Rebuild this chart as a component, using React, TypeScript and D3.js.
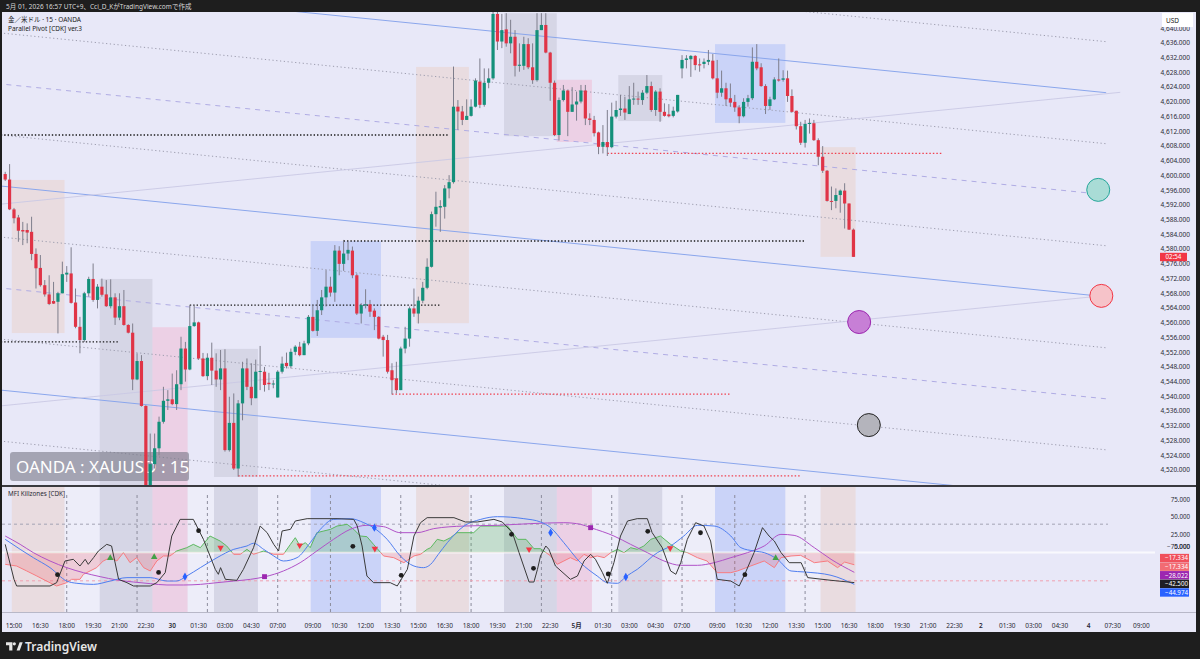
import React from 'react';
import * as d3 from 'd3';

// 15m candles, first entry is bar index -2 (14:30), bar 0 = 15:00
const firstIndex = -2;
const candles: [number, number, number, number][] = [
  [4600.4, 4601.0, 4598.5, 4598.9], [4598.9, 4603.1, 4590.6, 4590.8],
  [4590.8, 4591.2, 4587.0, 4588.4], [4588.6, 4589.3, 4582.0, 4585.0], [4585.2, 4587.4, 4581.1, 4584.8], [4585.2, 4587.0, 4581.6, 4584.5],
  [4584.7, 4588.8, 4577.0, 4578.7], [4578.7, 4580.2, 4569.3, 4574.8], [4574.9, 4578.4, 4569.8, 4570.2], [4570.2, 4571.6, 4567.1, 4567.7],
  [4567.7, 4572.9, 4564.8, 4565.1], [4565.9, 4571.1, 4565.1, 4565.2], [4565.7, 4568.4, 4557.1, 4568.0], [4568.0, 4576.6, 4568.0, 4573.2],
  [4573.1, 4575.4, 4571.1, 4573.6], [4573.4, 4580.5, 4565.2, 4565.4], [4565.5, 4569.3, 4558.5, 4558.9], [4558.9, 4561.6, 4551.7, 4555.3],
  [4555.3, 4568.4, 4554.8, 4568.0], [4568.0, 4572.5, 4567.1, 4571.9], [4571.9, 4576.1, 4565.7, 4566.2], [4566.2, 4570.5, 4563.9, 4569.8],
  [4569.8, 4572.0, 4567.1, 4567.6], [4567.7, 4571.6, 4564.3, 4564.5], [4564.5, 4571.8, 4563.9, 4566.9], [4566.9, 4568.0, 4559.4, 4561.4],
  [4561.4, 4568.0, 4560.7, 4564.5], [4564.5, 4568.9, 4559.2, 4559.4], [4559.4, 4559.6, 4557.1, 4557.3], [4557.3, 4559.8, 4541.7, 4544.6],
  [4544.6, 4551.7, 4544.4, 4549.6], [4549.6, 4551.2, 4537.2, 4537.4], [4537.4, 4537.6, 4512.0, 4514.5], [4514.5, 4529.9, 4512.5, 4521.6],
  [4521.6, 4529.9, 4520.4, 4525.9], [4525.9, 4534.5, 4524.0, 4533.1], [4533.1, 4542.6, 4532.6, 4538.8], [4538.8, 4541.7, 4536.3, 4539.2],
  [4539.2, 4546.2, 4537.6, 4537.9], [4537.9, 4547.1, 4536.3, 4543.3], [4543.3, 4556.2, 4541.7, 4553.0], [4553.0, 4554.8, 4544.0, 4547.3],
  [4547.3, 4564.8, 4547.1, 4559.1], [4559.1, 4564.8, 4558.9, 4560.1], [4560.1, 4560.3, 4549.9, 4550.3], [4550.3, 4551.8, 4545.3, 4545.5],
  [4545.5, 4551.7, 4544.4, 4550.5], [4550.5, 4554.6, 4543.1, 4547.0], [4547.0, 4551.7, 4542.6, 4544.6], [4544.6, 4552.6, 4541.7, 4547.6],
  [4547.6, 4552.8, 4525.0, 4525.4], [4525.4, 4539.9, 4525.0, 4532.8], [4532.8, 4540.8, 4520.0, 4520.4], [4520.4, 4539.0, 4518.2, 4538.1],
  [4538.1, 4549.4, 4533.5, 4547.6], [4547.6, 4550.3, 4541.7, 4542.6], [4542.6, 4549.0, 4537.6, 4539.5], [4539.5, 4550.0, 4539.5, 4546.7],
  [4546.7, 4553.7, 4541.7, 4546.9], [4546.7, 4548.0, 4541.3, 4543.1], [4543.7, 4546.4, 4541.7, 4543.3], [4543.3, 4544.4, 4542.2, 4543.5],
  [4539.7, 4547.1, 4539.7, 4546.7], [4546.7, 4550.8, 4546.2, 4548.9], [4549.1, 4551.9, 4547.6, 4548.2], [4548.2, 4553.0, 4547.6, 4552.1],
  [4552.1, 4553.9, 4551.2, 4553.5], [4553.5, 4554.8, 4550.9, 4551.2], [4551.2, 4555.1, 4551.2, 4554.4], [4554.4, 4562.1, 4553.9, 4561.6],
  [4561.6, 4564.8, 4557.6, 4557.8], [4557.8, 4566.2, 4556.4, 4563.4], [4563.4, 4568.9, 4562.1, 4566.9], [4566.9, 4574.3, 4564.4, 4569.8],
  [4569.8, 4572.5, 4567.1, 4568.2], [4568.2, 4581.1, 4565.7, 4579.6], [4579.6, 4580.8, 4572.9, 4576.0], [4576.0, 4582.5, 4574.1, 4578.8],
  [4578.8, 4582.0, 4577.0, 4579.8], [4579.6, 4580.7, 4572.1, 4572.9], [4572.9, 4573.4, 4562.1, 4562.5], [4562.5, 4565.3, 4559.8, 4564.8],
  [4564.8, 4569.1, 4563.9, 4565.0], [4565.0, 4566.2, 4561.6, 4563.0], [4563.3, 4563.9, 4558.0, 4561.6], [4561.6, 4561.8, 4555.5, 4555.7],
  [4556.2, 4556.7, 4550.8, 4555.3], [4555.3, 4556.7, 4546.2, 4546.7], [4547.1, 4549.0, 4540.5, 4544.4], [4544.9, 4549.4, 4540.8, 4541.7],
  [4541.7, 4553.5, 4541.7, 4553.0], [4553.0, 4558.9, 4551.7, 4555.7], [4555.7, 4564.4, 4553.5, 4563.9], [4563.9, 4569.3, 4561.6, 4562.5],
  [4562.5, 4567.1, 4559.8, 4566.0], [4566.0, 4571.1, 4565.3, 4569.5], [4569.5, 4577.5, 4569.1, 4575.2], [4575.2, 4590.2, 4575.0, 4589.5],
  [4589.5, 4595.6, 4586.1, 4591.5], [4591.3, 4593.3, 4584.7, 4591.7], [4591.5, 4597.4, 4588.3, 4596.5], [4596.5, 4600.1, 4593.8, 4598.2],
  [4598.2, 4629.6, 4597.8, 4618.7], [4618.7, 4620.5, 4612.4, 4617.4], [4617.4, 4618.9, 4613.7, 4615.1], [4615.1, 4620.7, 4615.1, 4616.2],
  [4616.2, 4620.7, 4616.0, 4618.7], [4618.7, 4626.4, 4618.5, 4625.8], [4625.5, 4631.8, 4618.3, 4619.2], [4619.2, 4629.1, 4618.7, 4625.2],
  [4625.2, 4629.1, 4623.7, 4626.4], [4626.4, 4647.0, 4626.0, 4643.9], [4643.9, 4646.5, 4634.1, 4636.4], [4636.4, 4643.9, 4634.6, 4639.5],
  [4639.7, 4644.1, 4635.0, 4635.9], [4635.9, 4642.3, 4633.2, 4637.7], [4637.7, 4639.5, 4626.9, 4629.8], [4629.8, 4635.9, 4628.2, 4630.1],
  [4629.8, 4637.7, 4628.7, 4635.7], [4635.7, 4637.3, 4628.9, 4629.4], [4629.4, 4635.9, 4624.9, 4625.9], [4625.9, 4644.1, 4625.5, 4639.5],
  [4639.5, 4644.1, 4639.5, 4640.9], [4640.9, 4644.1, 4633.2, 4633.4], [4633.4, 4633.6, 4620.3, 4625.2], [4625.2, 4625.8, 4610.7, 4611.0],
  [4611.0, 4621.2, 4609.5, 4620.5], [4620.5, 4624.6, 4620.1, 4623.1], [4623.1, 4623.2, 4610.7, 4617.3], [4617.3, 4624.0, 4617.3, 4619.3],
  [4619.3, 4622.8, 4614.9, 4620.1], [4620.1, 4624.6, 4619.6, 4623.1], [4623.1, 4624.6, 4613.7, 4615.5], [4615.5, 4616.9, 4613.7, 4615.1],
  [4615.1, 4616.2, 4610.6, 4611.5], [4611.7, 4611.9, 4605.8, 4607.8], [4607.8, 4613.7, 4606.0, 4609.1], [4609.1, 4617.8, 4605.3, 4607.7],
  [4607.7, 4619.8, 4607.4, 4616.0], [4616.0, 4620.3, 4615.5, 4617.8], [4617.8, 4621.9, 4616.2, 4618.2], [4618.2, 4621.4, 4615.1, 4617.1],
  [4616.7, 4624.3, 4616.7, 4620.7], [4620.7, 4625.2, 4619.2, 4620.9], [4620.9, 4622.8, 4619.2, 4620.7], [4620.5, 4623.2, 4619.2, 4622.5],
  [4622.5, 4627.3, 4622.1, 4624.3], [4624.3, 4625.5, 4617.3, 4617.8], [4617.8, 4623.2, 4616.2, 4622.8], [4622.8, 4623.7, 4614.6, 4617.3],
  [4617.3, 4619.6, 4616.0, 4616.2], [4616.6, 4619.4, 4615.8, 4616.1], [4616.2, 4618.7, 4615.8, 4617.6], [4617.4, 4621.9, 4617.1, 4621.9],
  [4629.1, 4632.7, 4626.4, 4631.4], [4631.4, 4632.7, 4629.1, 4631.8], [4631.6, 4632.7, 4626.8, 4632.5], [4632.5, 4632.7, 4628.6, 4630.0],
  [4630.2, 4631.8, 4628.2, 4630.0], [4630.3, 4631.8, 4629.1, 4630.9], [4630.9, 4634.1, 4630.0, 4631.4], [4631.2, 4633.0, 4626.1, 4626.4],
  [4626.4, 4631.4, 4621.0, 4622.5], [4622.5, 4628.5, 4621.4, 4623.7], [4623.7, 4625.2, 4618.9, 4620.7], [4621.0, 4625.0, 4618.7, 4619.8],
  [4620.0, 4621.9, 4617.3, 4618.5], [4618.5, 4619.1, 4614.2, 4616.1], [4616.1, 4621.0, 4615.8, 4620.0], [4620.0, 4621.9, 4618.7, 4621.0],
  [4621.0, 4634.8, 4620.5, 4630.9], [4630.9, 4635.7, 4628.6, 4629.1], [4629.4, 4630.5, 4624.1, 4624.3], [4624.3, 4624.8, 4616.7, 4618.9],
  [4618.9, 4621.4, 4617.8, 4620.7], [4620.7, 4626.7, 4620.5, 4626.1], [4626.1, 4631.8, 4625.5, 4625.8], [4626.0, 4628.6, 4625.5, 4626.4],
  [4626.4, 4628.5, 4620.0, 4621.6], [4621.6, 4623.4, 4617.1, 4617.3], [4617.6, 4617.6, 4612.5, 4613.4], [4613.4, 4614.6, 4608.3, 4608.9],
  [4608.9, 4615.1, 4607.6, 4614.0], [4614.0, 4615.5, 4611.4, 4614.3], [4614.2, 4615.1, 4609.4, 4609.6], [4609.6, 4610.1, 4602.8, 4605.1],
  [4605.1, 4608.0, 4600.7, 4601.3], [4601.3, 4601.5, 4592.9, 4593.1], [4593.1, 4597.0, 4590.6, 4592.9], [4593.1, 4596.5, 4591.1, 4594.7],
  [4594.7, 4596.2, 4589.9, 4595.9], [4595.9, 4597.9, 4585.6, 4592.4], [4592.4, 4592.4, 4585.2, 4585.3], [4585.3, 4585.6, 4577.9, 4577.9],
];

// killzone sessions (bar index range, high/low of the box)
const sessionStart = [0, 20, 32, 46, 68, 92, 112, 124, 138, 160, 184];
const sessionEnd = [11, 31, 39, 55, 83, 103, 123, 131, 147, 175, 191];
const sessionKind = ['beige', 'gray', 'pink', 'gray', 'blue', 'beige', 'gray', 'pink', 'gray', 'blue', 'beige'];
const sessionHigh = [4598.8, 4571.9, 4558.8, 4552.9, 4582.2, 4629.5, 4644.1, 4626.0, 4627.3, 4635.7, 4607.7];
const sessionLow = [4557.2, 4510.0, 4510.0, 4518.1, 4555.9, 4559.9, 4610.7, 4609.1, 4614.8, 4614.3, 4577.9];
const offSessions: [number, number][] = [[12, 19], [40, 45], [56, 67], [84, 91], [104, 111], [132, 137], [148, 159], [176, 183]];
const sessionMarks = [12, 28, 44, 60, 72, 88, 104, 120, 136, 152, 164, 180];

// parallel pivot channel: upper blue line endpoints, level spacing
const channelTop: [number, number][] = [[-4, 4652.7], [248.5, 4622.5]];
const channelStep = 13.86;
const channelLevels = [-1, 0, 1, 2, 3, 4, 5, 6, 7, 8, 9];
const risingLines: [number, number, number, number][] = [[-4, 4592.1, 251.7, 4622.6], [-4, 4537.3, 248.3, 4567.4]];

// session high / low rays
const blackRays: [number, number, number][] = [[-3, 99, 4611.0], [-3, 24, 4554.8], [75, 180, 4582.2], [40, 97, 4564.8]];
const redRays: [number, number, number][] = [[135, 211, 4606.0], [86, 163, 4540.6], [51, 179, 4518.4]];

// projection circles
const projIndex = [246.7, 247.4, 192.3, 194.5];
const projPrice = [4596.1, 4567.3, 4560.2, 4532.2];
const projStroke = ['#26a69a', '#f23645', '#9c27b0', '#222'];
const projFill = ['#a9dcd6', '#f6c3c9', '#c77fd6', '#b4b4bc'];

const timeTicks: [string, number][] = [
  ['15:00', 0], ['16:30', 6], ['18:00', 12], ['19:30', 18], ['21:00', 24], ['22:30', 30], ['30', 36], ['01:30', 42],
  ['03:00', 48], ['04:30', 54], ['07:00', 60], ['09:00', 68], ['10:30', 74], ['12:00', 80], ['13:30', 86], ['15:00', 92],
  ['16:30', 98], ['18:00', 104], ['19:30', 110], ['21:00', 116], ['22:30', 122], ['5月', 128], ['01:30', 134], ['03:00', 140],
  ['04:30', 146], ['07:00', 152], ['09:00', 160], ['10:30', 166], ['12:00', 172], ['13:30', 178], ['15:00', 184], ['16:30', 190],
  ['18:00', 196], ['19:30', 202], ['21:00', 208], ['22:30', 214], ['2', 220], ['01:30', 226], ['03:00', 232], ['04:30', 238],
  ['4', 244.5], ['07:30', 250], ['09:00', 256.5],
];
const dayLabels = ['30', '5月', '2', '4'];
const priceTicks = d3.range(4520, 4641, 4);
const mfiTicks = [75, 50, 25, 0, -75];

// MFI Killzones pane: [bar index, value]
const fastLine: [number, number][] = [
  [-2, 11.5], [0, -37.9], [0.6, -47.3], [8.2, -47.3], [9.7, -42.6], [11.6, -12], [13.5, -9.6], [15, -19.1], [16.2, -9.6], [16.9, -16.7],
  [18.1, -7.3], [19.2, 2.1], [21.1, 11.5], [22.2, 9.2], [23.8, -37.9], [25.7, -42.6], [27.2, -47.3], [31, -47.3], [32.5, -42.6], [34.4, -28.5],
  [35.9, 23.3], [37.8, 46.8], [40.8, 46.8], [43.1, 18.6], [44.6, -4.9], [45.8, -23.8], [46.5, -30.8], [47, -21.4], [48.1, -37.9], [50.7, -39.3],
  [52.2, -23.8], [54.5, 6.8], [56, 37.4], [57.6, 28], [59.1, 11.5], [60.2, 2.1], [61, 30.4], [62.9, 32.7], [64, 44.5], [66.7, 47.8],
  [73.5, 47.8], [77.3, 46.8], [78.1, 37.4], [79.2, 9.2], [80.3, -33.2], [81.8, -42.6], [85.6, -42.6], [87.2, -47.3], [89.5, -23.8], [91, 23.3],
  [92.5, 42.1], [94, 49.2], [100.1, 49.2], [102.7, 43.1], [105.4, 43.1], [109.2, 46.8], [111.1, 43.1], [113.4, 28], [114.9, 0], [117.2, -41.7],
  [118.3, -41.7], [119.1, -23.8], [119.8, -4.9], [121, 9.2], [121.7, 4.5], [123.2, -19.1], [126.6, -37.9], [128.2, -33.2], [129.7, -12], [131.2, -2.6],
  [132.3, -9.6], [133.9, -28.5], [135, -43.5], [136.5, -14.4], [138, 23.3], [139.6, 44.5], [141.8, 47.8], [144.1, 47.8], [145.2, 28], [147.5, 6.8],
  [149.4, -26.1], [150.6, -30.8], [151.7, -14.4], [153.2, 18.6], [155.1, 42.1], [157, 37.4], [158.5, 16.2], [160, -37.9], [163.1, -40.3], [165, -47.3],
  [166.1, -33.2], [168.4, 0], [170.3, 35.1], [171.8, 23.3], [173, 16.2], [174.5, 0], [176.4, -14.4], [179.1, -14.4], [180.6, -35.5], [185.9, -39.3],
  [191.2, -42.5],
];
const blueLine: [number, number][] = [
  [-2, 18.6], [1.4, 4.5], [4.4, -7.3], [8.2, -21.4], [12, -40.3], [14.3, -43.5], [18.1, -45], [21.9, -40.3], [25.7, -35.5], [31, -35.5],
  [34.8, -40.3], [37, -40.3], [39.3, -33.2], [42.4, -21.4], [46.2, -7.3], [50, 4.5], [53, 9.2], [54.5, 13], [56.8, 4.5], [59.1, -4.9],
  [61.3, -12], [64.4, -7.3], [67.4, 13.9], [69.7, 32.7], [72.7, 46.8], [76.5, 47.8], [79.6, 42.1], [81.8, 35.1], [84.9, 18.6], [87.9, -4.9],
  [91, -19.1], [93.2, -21.4], [94.8, -16.7], [96.5, -3], [98.6, 13.9], [102.4, 37.4], [106.2, 46.8], [110, 50.6], [116, 47.8], [119.8, 43.1],
  [122.1, 35.1], [125.1, 13.9], [128.9, -14.4], [132.7, -33.2], [135, -42.6], [137.3, -43.5], [139.2, -34.1], [141.8, -23.8], [146.4, -0.2], [149.4, 9.2],
  [152.4, 23.3], [155.5, 38.4], [159.3, 37.4], [163.1, 23.3], [165.4, 6.8], [168.4, 2.1], [170.7, -0.2], [173.7, -9.6], [176.8, -26.1], [179.8, -27.5],
  [185.9, -32.2], [191.2, -44.974],
];
const purpleLine: [number, number][] = [
  [-2, 23.3], [1.4, 11.5], [4.4, -0.2], [8.2, -12], [12, -21.4], [15.8, -28.5], [19.6, -34.1], [23.4, -38.8], [27.2, -41.7], [31, -44],
  [34.8, -45.9], [38.6, -45.9], [42.4, -45], [46.2, -42.6], [50, -40.3], [53.8, -37.9], [57.2, -34.1], [61.3, -26.1], [65.1, -14.4], [68.9, 2.1],
  [72.7, 18.6], [76.5, 32.7], [80.3, 38.4], [84.1, 36.5], [87.9, 28], [91.7, 28], [95.5, 33.7], [102.4, 37.4], [110, 38.4], [117.6, 40.8],
  [125.1, 42.1], [128.9, 39.8], [131.2, 35.1], [136.5, 23.3], [140.3, 11.5], [144.1, -0.2], [147.9, -12], [151.7, -18.1], [155.5, -18.1], [159.3, -14.4],
  [163.1, -7.3], [166.9, -0.2], [170.7, 9.2], [174.5, 25.6], [177.5, 24.2], [182.1, 6.8], [185.9, -9.6], [191.2, -28.022],
];
const mfiLine: [number, number][] = [
  [-2, -16.7], [-0.9, -17.7], [0.6, -19.1], [2.9, -26.1], [5.2, -33.2], [7.4, -40.3], [9.7, -47.3], [12, -42.6], [13.1, -37.9], [15, -37.9],
  [15.8, -30.8], [17.3, -26.1], [18.8, -21.4], [20.3, -12], [21.9, -7.3], [23.4, -12], [24.9, -0.2], [26.4, -14.4], [27.9, -7.3], [29.5, -21.4],
  [31, -26.1], [32.5, -12], [34, -4.9], [35.5, -4.9], [37, 2.1], [39.3, 6.8], [40.8, 11.5], [42.4, 6.8], [44.6, 23.3], [46.9, 16.2],
  [48.4, 9.2], [50, -2.6], [51.5, -2.6], [53, 4.5], [54.5, -2.6], [56.8, 2.1], [59.1, -2.6], [61.3, -2.6], [62.9, 11.5], [64, 20.9],
  [65.1, 9.2], [66.3, 13.9], [67.4, 6.8], [68.9, 28], [70.5, 30.4], [72, 32.7], [73.5, 37.4], [75.8, 39.8], [77.3, 32.7], [78.8, 23.3],
  [80.3, 22.4], [81.8, 11.5], [84.1, -4.9], [86.4, -7.3], [88.7, -14.4], [91, -4.9], [92.5, -2.6], [94, 4.5], [94.8, 6.8], [96.3, 18.6],
  [97.8, 16.2], [99.3, 20.9], [100.8, 28], [104.6, 28], [106.2, 37.4], [112.3, 37.4], [114.6, 18.6], [116.5, 18.6], [118.3, 5.4], [119.8, 5.4],
  [122.1, -4.9], [123.6, -16.7], [125.1, -12], [126.6, -7.3], [128.2, -12], [129.7, -2.6], [131.2, -7.3], [132.7, -4.9], [134.3, -7.3], [135.8, -0.2],
  [137.3, 4.5], [138.8, -0.2], [140.3, 6.8], [141.8, 4.5], [143.3, 9.2], [144.9, 18.6], [147.1, 23.3], [149.4, 11.5], [151.7, 2.1], [153.2, -0.2],
  [155.5, -7.3], [157.7, -12], [160, -28.5], [163.1, -28.5], [164.6, -26.1], [167.6, -19.1], [170.7, -12], [173, -21.4], [174.5, -7.3], [176.8, -4.9],
  [179, -4], [182.1, -14.4], [185.1, -12], [187.4, -21.4], [189, -13.5], [191.2, -17.334],
];
const blackDots: [number, number][] = [[9.9, -31.3], [32.9, -28.1], [42, 30.8], [77.1, 8.7], [88.1, -32.2], [113.2, 25.7], [118.2, -22.3], [135.2, -30.4], [144.2, 29.9], [156.2, 27.9], [166.3, -31.3]];
const blueDiamonds: [number, number][] = [[38.9, -34.1], [82, 35.1], [122.1, 28], [139.2, -34.6]];
const greenUps: [number, number][] = [[21.9, -7.8], [31.9, -6.4], [173.3, -7.8]];
const redDowns: [number, number][] = [[47, 6.8], [65, 10.1], [82.1, 5.4], [117.2, 4.5], [149.3, 6.1]];
const purpleSquares: [number, number][] = [[57, -34.1], [131.2, 35.1]];

const lastValues = [-17.334, -17.334, -28.022, -42.5, -44.974];
const lastColors = ['#f0505c', '#f26b73', '#9c27b0', '#1e1e24', '#2962ff'];

const sessionFill: Record<string, string> = {
  beige: 'rgba(236,190,160,0.28)',
  gray: 'rgba(150,150,168,0.22)',
  pink: 'rgba(245,160,190,0.32)',
  blue: 'rgba(110,145,250,0.24)',
};

const font = "'Noto Sans','Noto Sans CJK JP',sans-serif";

const App: React.FC = () => {
  const W = 1200, H = 659;
  const step = 4.395;
  const plotL = 2, plotR = 1155;
  const mainT = 12, mainB = 485, indT = 487, indB = 612, axisB = 632;

  const x = d3.scaleLinear().domain([0, 1]).range([14, 14 + step]);
  const y = d3.scaleLinear().domain([4520, 4636]).range([470, 43]);
  const yi = d3.scaleLinear().domain([-75, 75]).range([605.6, 499.4]);

  const fmtP = d3.format(',.3f');
  const fmtI = d3.format('.3f');

  const lin = d3.line<[number, number]>().x(d => x(d[0])).y(d => yi(d[1]));
  const smooth = d3.line<[number, number]>().x(d => x(d[0])).y(d => yi(d[1])).curve(d3.curveMonotoneX);
  const mfiArea = d3.area<[number, number]>().x(d => x(d[0])).y0(yi(0)).y1(d => yi(d[1]));

  const diamond = d3.symbol(d3.symbolDiamond, 20)() || '';
  const tri = d3.symbol(d3.symbolTriangle, 18)() || '';
  const square = d3.symbol(d3.symbolSquare, 24)() || '';

  // stack the last-value labels so they don't overlap
  const labelY = lastValues.map(v => yi(v));
  for (let it = 0; it < 60; it++) {
    for (let i = 0; i < labelY.length - 1; i++) {
      const gap = labelY[i + 1] - labelY[i];
      if (gap < 8.6) {
        const d = (8.6 - gap) / 2;
        labelY[i] -= d;
        labelY[i + 1] += d;
      }
    }
  }
  for (let i = 0; i < labelY.length; i++) labelY[i] += 1.5;
  const labelTop = labelY[0] - 4.2;

  const levelStyle = (k: number) => {
    const m = ((k % 4) + 4) % 4;
    if (m === 0) return { stroke: '#8aa6ec', dash: undefined, w: 1 };
    if (m === 2) return { stroke: '#b0ace4', dash: '5,5', w: 1 };
    return { stroke: '#9c9cae', dash: '1.2,2.6', w: 1 };
  };

  return (
    <svg width={W} height={H} style={{ position: 'absolute', left: 0, top: 0, display: 'block' }} fontFamily={font}>
      <defs>
        <clipPath id="mainClip"><rect x={plotL} y={mainT} width={plotR - plotL} height={mainB - mainT} /></clipPath>
        <clipPath id="indClip"><rect x={plotL} y={indT} width={plotR - plotL} height={indB - indT} /></clipPath>
        <clipPath id="aboveZero"><rect x={plotL} y={indT} width={plotR - plotL} height={yi(0) - indT} /></clipPath>
        <clipPath id="belowZero"><rect x={plotL} y={yi(0)} width={plotR - plotL} height={indB - yi(0)} /></clipPath>
      </defs>

      <rect x={0} y={0} width={W} height={H} fill="#1e1e1e" />
      <rect x={plotL} y={mainT} width={1194} height={axisB - mainT} fill="#e8e8f8" />

      {/* header */}
      <text x={6} y={8.5} fontSize={6.5} fill="#d6d6d6">5月 01, 2026 16:57 UTC+9、Cci_D_KがTradingView.comで作成</text>

      {/* main pane */}
      <g clipPath="url(#mainClip)">
        {sessionStart.map((s, i) => (
          <rect key={'sb' + i} x={x(s) - step / 2} width={x(sessionEnd[i]) - x(s) + step}
            y={y(sessionHigh[i])} height={y(sessionLow[i]) - y(sessionHigh[i])} fill={sessionFill[sessionKind[i]]} />
        ))}

        {channelLevels.map(k => {
          const st = levelStyle(k);
          return (
            <line key={'ch' + k} x1={x(channelTop[0][0])} y1={y(channelTop[0][1] - k * channelStep)}
              x2={x(channelTop[1][0])} y2={y(channelTop[1][1] - k * channelStep)}
              stroke={st.stroke} strokeWidth={st.w} strokeDasharray={st.dash} />
          );
        })}
        {risingLines.map((r, i) => (
          <line key={'rl' + i} x1={x(r[0])} y1={y(r[1])} x2={x(r[2])} y2={y(r[3])} stroke="#c9c8e4" strokeWidth={0.9} />
        ))}

        {blackRays.map((r, i) => (
          <line key={'br' + i} x1={x(r[0])} x2={x(r[1])} y1={y(r[2])} y2={y(r[2])} stroke="#1a1a1a" strokeWidth={1.4} strokeDasharray="1.4,2" />
        ))}
        {redRays.map((r, i) => (
          <line key={'rr' + i} x1={x(r[0])} x2={x(r[1])} y1={y(r[2])} y2={y(r[2])} stroke="#f0404f" strokeWidth={1.2} strokeDasharray="1.5,2" />
        ))}

        <rect x={10} y={452} width={179} height={29} rx={3} fill="rgba(118,118,134,0.6)" />
        <text x={16} y={473} fontSize={17} fill="#ffffff">OANDA : XAUUSD : 15</text>

        {candles.map((c, j) => {
          const i = j + firstIndex;
          const [o, h, l, cl] = c;
          const up = cl >= o;
          const top = y(Math.max(o, cl));
          const bh = Math.max(1, Math.abs(y(o) - y(cl)));
          return (
            <g key={'c' + i}>
              <line x1={x(i)} x2={x(i)} y1={y(h)} y2={y(l)} stroke="#7e7e8c" strokeWidth={1} />
              <rect x={x(i) - 1.6} width={3.2} y={top} height={bh} fill={up ? '#14907a' : '#e03446'} />
            </g>
          );
        })}

        {projIndex.map((p, i) => (
          <circle key={'pc' + i} cx={x(p)} cy={y(projPrice[i])} r={11.5} fill={projFill[i]} stroke={projStroke[i]} strokeWidth={1} />
        ))}
      </g>

      <text x={8} y={22} fontSize={6.5} fill="#222">金／米ドル · 15 · OANDA</text>
      <text x={8} y={31} fontSize={6.5} fill="#222">Parallel Pivot [CDK] ver.3</text>

      {/* price axis */}
      {priceTicks.map(p => (
        <text key={'pt' + p} x={1190} y={y(p) + 2.3} fontSize={6.5} textAnchor="end" fill="#2a2a35">{fmtP(p)}</text>
      ))}
      <rect x={1162} y={13} width={31} height={14} fill="#ffffff" />
      <text x={1166} y={22.5} fontSize={6.5} fill="#222">USD</text>
      <rect x={1160} y={252.8} width={27} height={8.4} fill="#f23645" />
      <text x={1173.5} y={259.3} fontSize={6.2} textAnchor="middle" fill="#fff">02:54</text>

      {/* pane separator */}
      <rect x={plotL} y={mainB} width={1194} height={2} fill="#3a3a40" />

      {/* indicator pane */}
      <g clipPath="url(#indClip)">
        {sessionStart.map((s, i) => (
          <rect key={'ib' + i} x={x(s) - step / 2} width={x(sessionEnd[i]) - x(s) + step} y={indT} height={indB - indT} fill={sessionFill[sessionKind[i]]} />
        ))}
        {offSessions.map((r, i) => (
          <rect key={'ob' + i} x={x(r[0]) - step / 2} width={x(r[1]) - x(r[0]) + step} y={indT} height={indB - indT} fill="rgba(255,255,255,0.22)" />
        ))}
        {sessionMarks.map(m => (
          <line key={'sm' + m} x1={x(m)} x2={x(m)} y1={indT + 8} y2={indB} stroke="#8c8c9c" strokeWidth={1} strokeDasharray="3,3" />
        ))}
        <line x1={plotL} x2={plotR} y1={yi(0)} y2={yi(0)} stroke="rgba(255,255,255,0.75)" strokeWidth={2} />
        <line x1={plotL} x2={1108} y1={yi(40)} y2={yi(40)} stroke="#a4a4b4" strokeWidth={1} strokeDasharray="3,3" />
        <line x1={plotL} x2={1108} y1={yi(-40)} y2={yi(-40)} stroke="#f0a0b0" strokeWidth={1} strokeDasharray="3,3" />

        <g clipPath="url(#aboveZero)">
          <path d={mfiArea(mfiLine) || ''} fill="rgba(76,175,80,0.25)" />
          <path d={lin(mfiLine) || ''} fill="none" stroke="#5cb860" strokeWidth={1} />
        </g>
        <g clipPath="url(#belowZero)">
          <path d={mfiArea(mfiLine) || ''} fill="rgba(242,54,69,0.18)" />
          <path d={lin(mfiLine) || ''} fill="none" stroke="#f77c80" strokeWidth={1} />
        </g>
        <path d={smooth(purpleLine) || ''} fill="none" stroke="#b052c8" strokeWidth={1} />
        <path d={smooth(blueLine) || ''} fill="none" stroke="#4f7ef0" strokeWidth={1} />
        <path d={lin(fastLine) || ''} fill="none" stroke="#3a3a3a" strokeWidth={1} />

        {blackDots.map((d, i) => <circle key={'bd' + i} cx={x(d[0])} cy={yi(d[1])} r={2.4} fill="#1e1e1e" />)}
        {blueDiamonds.map((d, i) => <path key={'dd' + i} d={diamond} transform={`translate(${x(d[0])},${yi(d[1])})`} fill="#2962ff" />)}
        {greenUps.map((d, i) => <path key={'gu' + i} d={tri} transform={`translate(${x(d[0])},${yi(d[1])})`} fill="#43a047" />)}
        {redDowns.map((d, i) => <path key={'rd' + i} d={tri} transform={`translate(${x(d[0])},${yi(d[1])}) rotate(180)`} fill="#f23645" />)}
        {purpleSquares.map((d, i) => <path key={'ps' + i} d={square} transform={`translate(${x(d[0])},${yi(d[1])})`} fill="#9c27b0" />)}
      </g>
      <text x={8} y={496} fontSize={6.3} fill="#2a2a35">MFI Killzones [CDK]</text>

      {mfiTicks.map(v => (
        <text key={'it' + v} x={1190} y={Math.min(yi(v) + 2.3, labelTop - 5)} fontSize={6.2} textAnchor="end" fill="#2a2a35">{fmtI(v)}</text>
      ))}
      {lastValues.map((v, i) => (
        <g key={'lv' + i}>
          <rect x={1160} y={labelY[i] - 4.2} width={29} height={8.4} fill={lastColors[i]} />
          <text x={1188} y={labelY[i] + 2.3} fontSize={6.2} textAnchor="end" fill="#fff">{fmtI(v)}</text>
        </g>
      ))}

      {/* time axis */}
      <line x1={plotL} x2={1196} y1={indB + 0.5} y2={indB + 0.5} stroke="#b8b8c8" strokeWidth={1} />
      {timeTicks.map((t, i) => (
        <text key={'tt' + i} x={x(t[1])} y={627.5} fontSize={6.5} textAnchor="middle" fill="#2a2a35"
          fontWeight={dayLabels.includes(t[0]) ? 600 : 400}>{t[0]}</text>
      ))}

      {/* footer logo */}
      <g fill="#e6e6e6">
        <path d="M6,642.2 h6.4 v8.2 h-3.2 v-5.2 h-3.2 z" />
        <circle cx={14.3} cy={643.8} r={1.6} />
        <path d="M16.6,650.4 l3,-8.2 h3.1 l-3,8.2 z" />
      </g>
      <text x={25} y={650.5} fontSize={12} fontWeight={600} fill="#e6e6e6">TradingView</text>
    </svg>
  );
};

export default App;
